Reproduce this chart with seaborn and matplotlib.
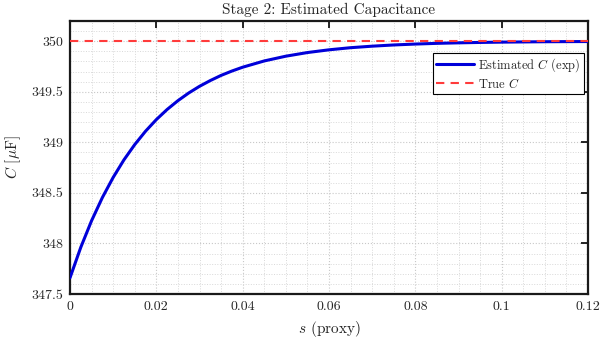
import numpy as np
import pandas as pd
import seaborn as sns
import matplotlib.pyplot as plt
from matplotlib.ticker import MultipleLocator

# DATA
s_vals = [0.0, 0.0025, 0.005, 0.0075, 0.01, 0.0125, 0.015, 0.0175, 0.02,
          0.0225, 0.025, 0.0275, 0.03, 0.0325, 0.035, 0.0375, 0.04,
          0.045, 0.05, 0.055, 0.06, 0.065, 0.07, 0.075, 0.08, 0.085,
          0.09, 0.095, 0.10, 0.105, 0.11, 0.115, 0.12]
c_est = [347.660, 347.962, 348.225, 348.454, 348.653, 348.827, 348.978, 349.110, 349.225,
         349.325, 349.412, 349.488, 349.554, 349.611, 349.662, 349.705, 349.743,
         349.805, 349.852, 349.888, 349.915, 349.936, 349.951, 349.963, 349.972, 349.979,
         349.984, 349.988, 349.991, 349.993, 349.995, 349.996, 349.997]
true_c = 350.0
x_ticks = [0, 0.02, 0.04, 0.06, 0.08, 0.1, 0.12]
x_tick_labels = ["0", "0.02", "0.04", "0.06", "0.08", "0.1", "0.12"]
y_ticks = [347.5, 348, 348.5, 349, 349.5, 350]
y_tick_labels = ["347.5", "348", "348.5", "349", "349.5", "350"]

df = pd.DataFrame({"s": s_vals, "C": c_est})

# STYLE
sns.set_style("white")
plt.rcParams["font.family"] = ["cmr10", "DejaVu Serif"]
plt.rcParams["mathtext.fontset"] = "cm"
plt.rcParams["axes.formatter.use_mathtext"] = True
plt.rcParams["axes.unicode_minus"] = False

fig = plt.figure(figsize=(6.13, 3.38), dpi=100)
ax = fig.add_axes([70 / 613, 44 / 338, 518 / 613, 273 / 338])

sns.lineplot(data=df, x="s", y="C", ax=ax, color="#0000d9", linewidth=2.2,
             label=r"Estimated $C$ (exp)", zorder=3)
ax.axhline(true_c, color="#ff3b3b", linestyle=(0, (4, 3)), linewidth=1.5,
           label=r"True $C$", zorder=4)

ax.set_xlim(0, 0.12)
ax.set_ylim(347.5, 350.2)
ax.set_xticks(x_ticks)
ax.set_xticklabels(x_tick_labels)
ax.set_yticks(y_ticks)
ax.set_yticklabels(y_tick_labels)
ax.xaxis.set_minor_locator(MultipleLocator(0.005))
ax.yaxis.set_minor_locator(MultipleLocator(0.1))

ax.grid(True, which="major", color="#c8c8c8", linestyle=":", linewidth=0.8)
ax.grid(True, which="minor", color="#d8d8d8", linestyle=":", linewidth=0.7)
ax.set_axisbelow(True)

ax.tick_params(which="major", direction="in", length=5, width=1.2,
               top=True, right=True, labelsize=10, pad=5, color="black")
ax.tick_params(which="minor", length=0)
for sp in ax.spines.values():
    sp.set_color("#1a1a1a")
    sp.set_linewidth(1.6)

ax.set_title("Stage 2: Estimated Capacitance", fontsize=11, pad=5)
ax.set_xlabel(r"$s$ (proxy)", fontsize=11, labelpad=4)
ax.set_ylabel(r"$C$ [$\mu$F]", fontsize=11, labelpad=6)

leg = ax.legend(loc="upper right", bbox_to_anchor=(0.997, 0.893), fontsize=9,
                frameon=True, fancybox=False, framealpha=1, edgecolor="black",
                handlelength=3.0, handletextpad=0.3, borderpad=0.3,
                labelspacing=0.2, borderaxespad=0.2)
leg.get_frame().set_linewidth(0.8)

fig.savefig("out.png", dpi=100)
